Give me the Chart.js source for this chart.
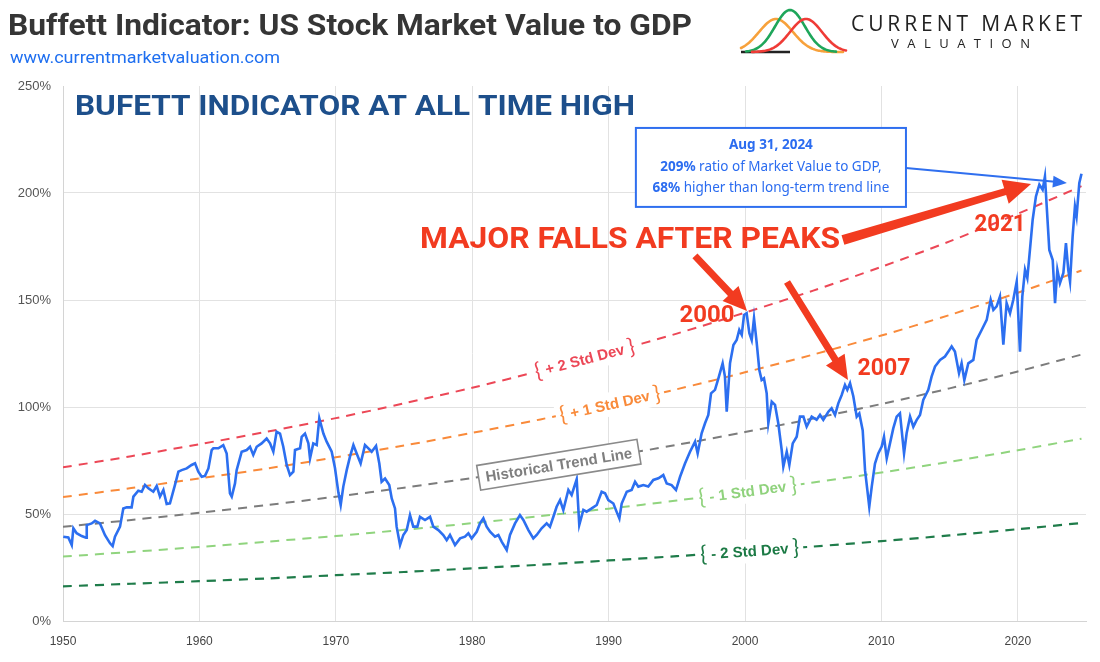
<!DOCTYPE html>
<html>
<head>
<meta charset="utf-8">
<script src="https://cdn.jsdelivr.net/npm/chart.js@4.4.1/dist/chart.umd.min.js"></script>
<style>
html,body{margin:0;padding:0;background:#fff;}
#wrap{width:1100px;height:662px;position:relative;}
</style>
</head>
<body>
<div id="wrap"><canvas id="c" width="1100" height="662"></canvas></div>
<script>
// ---- Buffett indicator (market value / GDP, %) ----
const years = [
  1950.02,1950.39,1950.64,1950.76,1951.00,1951.37,1951.69,1951.74,1952.10,1952.35,1952.71,1953.08,1953.45,1953.64,1953.81,1954.18,1954.42,1954.67,1955.03,1955.16,1955.52,1955.77,1956.01,1956.26,1956.62,1956.87,1957.11,1957.36,1957.60,1957.84,1958.21,1958.46,1958.70,1959.07,1959.43,1959.68,1959.92,
  1960.17,1960.41,1960.66,1960.90,1961.02,1961.39,1961.75,1962.00,1962.24,1962.37,1962.61,1962.73,1963.10,1963.47,1963.71,1963.95,1964.20,1964.56,1964.93,1965.18,1965.42,1965.66,1965.91,1966.15,1966.40,1966.64,1966.89,1967.01,1967.38,1967.50,1967.74,1967.99,1968.11,1968.35,1968.60,1968.79,1969.09,1969.33,1969.70,1969.94,
  1970.19,1970.36,1970.55,1970.80,1971.04,1971.29,1971.53,1971.82,1972.14,1972.39,1972.63,1972.95,1973.19,1973.36,1973.61,1973.92,1974.10,1974.34,1974.46,1974.71,1974.95,1975.20,1975.44,1975.68,1975.98,1976.17,1976.54,1976.91,1977.15,1977.52,1977.88,1978.13,1978.37,1978.74,1979.11,1979.47,1979.72,1979.96,
  1980.33,1980.57,1980.82,1981.06,1981.31,1981.67,1981.92,1982.16,1982.53,1982.77,1983.14,1983.50,1983.75,1984.12,1984.48,1984.73,1985.09,1985.46,1985.70,1985.95,1986.19,1986.44,1986.68,1987.05,1987.29,1987.66,1987.85,1988.15,1988.39,1988.76,1989.13,1989.49,1989.74,1989.98,
  1990.35,1990.59,1990.79,1990.96,1991.33,1991.69,1991.94,1992.18,1992.55,1992.91,1993.28,1993.65,1994.01,1994.26,1994.62,1994.94,1995.24,1995.60,1995.97,1996.34,1996.53,1996.82,1997.07,1997.31,1997.51,1997.80,1998.05,1998.36,1998.53,1998.66,1998.90,1999.15,1999.39,1999.58,1999.76,1999.93,
  2000.12,2000.32,2000.49,2000.66,2000.86,2001.05,2001.22,2001.39,2001.59,2001.71,2001.96,2002.20,2002.44,2002.69,2002.81,2003.06,2003.25,2003.50,2003.79,2004.03,2004.28,2004.52,2004.89,2005.25,2005.50,2005.74,2006.11,2006.35,2006.60,2006.84,2007.09,2007.33,2007.50,2007.70,2007.94,2008.19,2008.38,2008.63,2008.80,2008.97,2009.11,2009.29,2009.53,2009.77,
  2010.02,2010.19,2010.39,2010.63,2010.87,2011.12,2011.36,2011.66,2011.85,2012.10,2012.34,2012.58,2012.83,2013.07,2013.44,2013.68,2013.93,2014.30,2014.66,2014.91,2015.15,2015.39,2015.69,2015.88,2016.08,2016.37,2016.74,2016.98,2017.35,2017.72,2018.01,2018.21,2018.45,2018.69,2018.94,2019.18,2019.43,2019.67,2019.92,
  2020.16,2020.33,2020.53,2020.70,2020.89,2021.09,2021.33,2021.58,2021.82,2021.99,2022.12,2022.31,2022.56,2022.73,2022.90,2023.09,2023.34,2023.53,2023.70,2023.83,2024.02,2024.19,2024.31,2024.51,2024.67
];
const ratio = [
  39.4,39.0,35.5,43.3,41.0,39.7,38.9,44.8,45.6,46.8,45.6,40.1,36.3,35.0,39.4,44.1,52.6,53.1,53.1,58.1,60.9,60.4,63.6,62.0,60.4,63.1,58.1,61.2,54.7,55.0,63.6,69.8,70.5,71.3,72.9,73.7,69.8,
  67.4,67.8,71.3,79.9,80.7,80.7,82.2,78.3,59.6,58.1,64.3,70.5,79.1,79.9,81.4,77.6,81.4,83.0,85.3,83.0,79.1,88.4,87.6,81.4,72.9,68.2,69.8,79.9,80.7,86.1,87.6,83.0,76.0,83.0,82.2,94.7,87.6,83.8,79.1,71.5,
  60.0,54.2,62.8,70.5,76.8,82.2,78.3,73.6,82.2,80.7,79.1,81.8,73.6,65.1,66.6,63.5,57.3,52.6,44.1,35.5,40.2,42.5,49.5,44.1,44.1,48.7,47.2,48.7,44.1,42.5,40.2,37.8,40.2,35.5,38.6,39.4,41.0,38.6,
  41.7,45.6,48.0,44.1,41.7,39.4,40.2,37.1,33.2,40.2,45.6,49.5,47.2,42.5,38.6,40.2,43.3,45.6,44.0,48.7,53.4,56.5,51.8,61.2,58.9,66.2,44.9,51.9,51.1,52.6,54.2,60.4,59.7,56.5,
  54.9,51.0,47.9,54.9,60.4,61.2,65.1,62.8,63.5,62.8,65.9,66.7,68.2,64.3,63.5,61.2,67.4,73.6,79.1,83.8,78.3,87.7,92.4,96.3,106.4,108.0,113.4,120.4,114.2,97.8,120.4,129.0,131.3,136.0,133.7,143.0,
  143.8,134.5,131.3,141.5,129.8,117.3,112.6,113.4,106.4,92.4,102.5,101.0,92.4,79.9,72.1,79.1,72.9,83.0,86.1,95.5,95.5,90.8,95.5,94.0,96.3,94.0,97.8,99.4,96.3,101.7,105.6,110.3,108.0,111.1,105.0,95.5,97.0,89.0,70.5,61.2,53.4,62.7,73.6,78.3,
  81.5,86.1,76.0,83.0,90.0,95.5,97.0,78.3,87.7,95.5,90.8,93.9,96.3,103.3,108.0,114.2,118.9,122.0,123.6,125.9,128.3,125.9,115.8,120.4,112.6,120.4,122.0,131.3,136.0,140.7,150.1,145.4,147.0,151.6,129.1,148.5,143.8,150.1,158.6,
  125.9,151.6,164.1,160.2,173.4,187.5,198.4,203.9,201.5,207.7,193.7,173.4,168.7,148.5,164.1,157.9,162.6,176.6,164.1,158.6,179.7,193.7,189.1,204.7,209.0
];

// ---- trend line and standard-deviation bands (%), read at 5-year marks ----
const bandYears = [1950,1955,1960,1965,1970,1975,1980,1985,1990,1995,2000,2005,2010,2015,2020,2024.67];
const plus2Sd  = [71.8,77.0,82.6,88.5,94.8,101.7,109.0,116.9,125.3,134.3,144.1,154.4,165.5,177.4,190.3,203.2];
const plus1Sd  = [57.9,62.1,66.6,71.3,76.5,82.0,87.9,94.2,101.1,108.3,116.2,124.5,133.4,143.0,153.4,163.8];
const trendLine= [44.0,47.2,50.6,54.2,58.1,62.3,66.8,71.6,76.8,82.3,88.3,94.6,101.4,108.7,116.6,124.5];
const minus1Sd = [30.1,32.3,34.6,37.1,39.7,42.6,45.7,49.0,52.5,56.3,60.4,64.7,69.4,74.4,79.8,85.2];
const minus2Sd = [16.2,17.4,18.6,19.9,21.4,22.9,24.6,26.3,28.3,30.3,32.5,34.8,37.3,40.0,42.9,45.8];

// ---- axis ticks ----
const xTicks = [1950,1960,1970,1980,1990,2000,2010,2020];
const xTickLabels = ['1950','1960','1970','1980','1990','2000','2010','2020'];
const yTicks = [0,50,100,150,200,250];
const yTickLabels = ['0%','50%','100%','150%','200%','250%'];

const pts = (xs, ys) => xs.map((x, i) => ({x: x, y: ys[i]}));

// ---------- drawing helpers ----------
function fitText(ctx, txt, x, y, font, w, color, align) {
  ctx.save();
  ctx.font = font; ctx.fillStyle = color; ctx.textBaseline = 'middle'; ctx.textAlign = 'left';
  const m = ctx.measureText(txt).width;
  const s = w / m;
  const x0 = align === 'center' ? x - w / 2 : x;
  ctx.translate(x0, y); ctx.scale(s, 1);
  ctx.fillText(txt, 0, 0);
  ctx.restore();
}
function spacedText(ctx, txt, x1, x2, y, font, color) {
  ctx.save();
  ctx.font = font; ctx.fillStyle = color; ctx.textBaseline = 'middle'; ctx.textAlign = 'left';
  const chars = txt.split('');
  const ws = chars.map(c => ctx.measureText(c).width);
  const sum = ws.reduce((a, b) => a + b, 0);
  const gap = (x2 - x1 - sum) / (chars.length - 1);
  let x = x1;
  chars.forEach((c, i) => { ctx.fillText(c, x, y); x += ws[i] + gap; });
  ctx.restore();
}
function richLine(ctx, parts, cx, y, color) {
  ctx.save();
  ctx.fillStyle = color; ctx.textBaseline = 'middle'; ctx.textAlign = 'left';
  let total = 0;
  const ws = parts.map(p => { ctx.font = p[1]; const w = ctx.measureText(p[0]).width; total += w; return w; });
  let x = cx - total / 2;
  parts.forEach((p, i) => { ctx.font = p[1]; ctx.fillText(p[0], x, y); x += ws[i]; });
  ctx.restore();
}
function fatArrow(ctx, x1, y1, x2, y2, w1, w2, hw, hl, color) {
  const dx = x2 - x1, dy = y2 - y1, L = Math.hypot(dx, dy);
  const ux = dx / L, uy = dy / L, nx = -uy, ny = ux;
  const bx = x2 - ux * hl, by = y2 - uy * hl;
  ctx.save();
  ctx.beginPath();
  ctx.moveTo(x1 + nx * w1 / 2, y1 + ny * w1 / 2);
  ctx.lineTo(bx + nx * w2 / 2, by + ny * w2 / 2);
  ctx.lineTo(bx + nx * hw / 2, by + ny * hw / 2);
  ctx.lineTo(x2, y2);
  ctx.lineTo(bx - nx * hw / 2, by - ny * hw / 2);
  ctx.lineTo(bx - nx * w2 / 2, by - ny * w2 / 2);
  ctx.lineTo(x1 - nx * w1 / 2, y1 - ny * w1 / 2);
  ctx.closePath();
  ctx.fillStyle = color; ctx.fill();
  ctx.restore();
}
function bell(ctx, x0, x1, px, py, base, sigma, color) {
  ctx.save();
  ctx.beginPath();
  for (let x = x0; x <= x1; x += 1) {
    const y = base - (base - py) * Math.exp(-0.5 * Math.pow((x - px) / sigma, 2));
    if (x === x0) ctx.moveTo(x, y); else ctx.lineTo(x, y);
  }
  ctx.strokeStyle = color; ctx.lineWidth = 2.6; ctx.lineCap = 'round'; ctx.stroke();
  ctx.restore();
}

const COL = {
  blue: '#2c6ff0', plus2: '#ec4756', plus1: '#f98a3a', trend: '#7c7c7c',
  minus1: '#90d47e', minus2: '#1f7c4a', red: '#f23b20', navy: '#1d4f8b'
};

const lineLabels = [
  {ds: 1, year: 1988.25, text: ' + 2 Std Dev ', color: COL.plus2},
  {ds: 2, year: 1990.10, text: ' + 1 Std Dev ', color: COL.plus1},
  {ds: 3, year: 1986.35, text: 'Historical Trend Line', color: '#7f7f7f', boxed: true},
  {ds: 4, year: 2000.20, text: ' - 1 Std Dev ', color: '#8fd27c'},
  {ds: 5, year: 2000.35, text: ' - 2 Std Dev ', color: '#1c7a45'}
];

const overlay = {
  id: 'overlay',
  beforeDraw(chart) {
    const ctx = chart.ctx;
    ctx.save(); ctx.fillStyle = '#fff'; ctx.fillRect(0, 0, chart.width, chart.height); ctx.restore();
  },
  afterDatasetsDraw(chart) {
    const ctx = chart.ctx;
    const xs = chart.scales.x;
    lineLabels.forEach(l => {
      const p = chart.getDatasetMeta(l.ds).data;
      const px = xs.getPixelForValue(l.year);
      let i = 0;
      while (i < p.length - 2 && p[i + 1].x < px) i++;
      const a = p[i], b = p[i + 1];
      const t = (px - a.x) / (b.x - a.x);
      const py = a.y + (b.y - a.y) * t;
      const ang = Math.atan2(b.y - a.y, b.x - a.x);
      ctx.save();
      ctx.translate(px, py); ctx.rotate(ang);
      ctx.textBaseline = 'middle'; ctx.textAlign = 'left';
      if (l.boxed) {
        ctx.font = 'bold 15px "Liberation Sans", Arial, sans-serif';
        const w = ctx.measureText(l.text).width;
        const bw = w + 14, bh = 25;
        ctx.fillStyle = '#fff'; ctx.fillRect(-bw / 2, -bh / 2, bw, bh);
        ctx.strokeStyle = '#8a8a8a'; ctx.lineWidth = 1.6; ctx.strokeRect(-bw / 2, -bh / 2, bw, bh);
        ctx.fillStyle = l.color; ctx.fillText(l.text, -w / 2, 1);
      } else {
        const bf = '22px Lato, "Liberation Sans", sans-serif';
        const tf = 'bold 15px "Liberation Sans", Arial, sans-serif';
        ctx.font = bf; const wb = ctx.measureText('{').width;
        ctx.font = tf; const wt = ctx.measureText(l.text).width;
        const total = wb * 2 + wt;
        ctx.fillStyle = '#fff'; ctx.fillRect(-total / 2 - 4, -12, total + 8, 24);
        ctx.fillStyle = l.color;
        let x = -total / 2;
        ctx.font = bf; ctx.fillText('{', x, 0); x += wb;
        ctx.font = tf; ctx.fillText(l.text, x, 1); x += wt;
        ctx.font = bf; ctx.fillText('}', x, 0);
      }
      ctx.restore();
    });
  },
  afterDraw(chart) {
    const ctx = chart.ctx;
    const X = v => chart.scales.x.getPixelForValue(v);
    const Y = v => chart.scales.y.getPixelForValue(v);

    // header
    fitText(ctx, 'Buffett Indicator: US Stock Market Value to GDP', 8, 27, 'bold 30px Roboto, sans-serif', 684, '#353535');
    fitText(ctx, 'www.currentmarketvaluation.com', 10, 59, '16px Roboto, sans-serif', 270, '#1f6ff0');

    // logo
    ctx.save();
    ctx.beginPath(); ctx.moveTo(741, 52); ctx.lineTo(790, 52);
    ctx.strokeStyle = '#222'; ctx.lineWidth = 2.4; ctx.stroke();
    ctx.restore();
    bell(ctx, 741, 843, 776, 19, 52, 17, '#f7a13b');
    bell(ctx, 746, 836, 790, 10, 52, 15, '#1ea65a');
    bell(ctx, 752, 846, 806, 19, 52, 16, '#ef3b36');
    spacedText(ctx, 'CURRENT MARKET', 851, 1082, 25, '21px "Open Sans", sans-serif', '#222');
    spacedText(ctx, 'VALUATION', 891, 1030, 44, '13px "Open Sans", sans-serif', '#222');

    // headline inside plot
    fitText(ctx, 'BUFETT INDICATOR AT ALL TIME HIGH', X(1950.88), Y(239.7), 'bold 28px Roboto, sans-serif', 560, COL.navy);

    // callout box
    const bx1 = X(1992.0), bx2 = X(2011.8), by1 = Y(230.4), by2 = Y(193.5);
    ctx.save();
    ctx.fillStyle = '#fff'; ctx.fillRect(bx1, by1, bx2 - bx1, by2 - by1);
    ctx.strokeStyle = '#2f6fef'; ctx.lineWidth = 2; ctx.strokeRect(bx1, by1, bx2 - bx1, by2 - by1);
    ctx.restore();
    const cx = (bx1 + bx2) / 2;
    const bfont = 'bold 13.5px "Noto Sans", sans-serif', rfont = '13.5px "Noto Sans", sans-serif';
    richLine(ctx, [['Aug 31, 2024', bfont]], cx, Y(222.4), '#2b6cf0');
    richLine(ctx, [['209%', bfont], [' ratio of Market Value to GDP,', rfont]], cx, Y(212.1), '#2b6cf0');
    richLine(ctx, [['68%', bfont], [' higher than long-term trend line', rfont]], cx, Y(202.3), '#2b6cf0');

    // blue pointer arrow
    {
      const x1 = bx2, y1 = Y(211.7), x2 = X(2023.6), y2 = Y(204.7);
      const dx = x2 - x1, dy = y2 - y1, L = Math.hypot(dx, dy), ux = dx / L, uy = dy / L;
      ctx.save();
      ctx.beginPath(); ctx.moveTo(x1, y1); ctx.lineTo(x2 - ux * 12, y2 - uy * 12);
      ctx.strokeStyle = '#2f6fef'; ctx.lineWidth = 2; ctx.stroke();
      ctx.restore();
      fatArrow(ctx, x1, y1, x2, y2, 0, 0, 12, 14, '#2f6fef');
    }

    // red callouts
    fitText(ctx, 'MAJOR FALLS AFTER PEAKS', X(1991.57), Y(178.0), 'bold 30px Roboto, "Liberation Sans", sans-serif', 420, COL.red, 'center');
    fatArrow(ctx, X(2007.18), Y(178.0), X(2020.97), Y(204.2), 10, 7, 25, 27, COL.red);
    fatArrow(ctx, X(1996.33), Y(170.6), X(2000.15), Y(144.9), 7, 7, 22, 24, COL.red);
    fatArrow(ctx, X(2003.08), Y(158.4), X(2007.55), Y(112.6), 7, 7, 22, 24, COL.red);
    fitText(ctx, '2000', X(1997.21), Y(142.5), 'bold 23px Roboto, sans-serif', 55, COL.red, 'center');
    fitText(ctx, '2007', X(2010.19), Y(117.8), 'bold 23px Roboto, sans-serif', 53, COL.red, 'center');
    fitText(ctx, '2021', X(2018.70), Y(185.0), 'bold 23px Roboto, sans-serif', 51, COL.red, 'center');
  }
};

const dash = [9, 7];
const chart = new Chart(document.getElementById('c'), {
  type: 'line',
  data: {
    datasets: [
      {label: 'Buffett Indicator', data: pts(years, ratio), borderColor: COL.blue, borderWidth: 2.6, pointRadius: 0, tension: 0},
      {label: '+2 Std Dev', data: pts(bandYears, plus2Sd), borderColor: COL.plus2, borderWidth: 2, borderDash: dash, pointRadius: 0, tension: 0.3},
      {label: '+1 Std Dev', data: pts(bandYears, plus1Sd), borderColor: COL.plus1, borderWidth: 2, borderDash: dash, pointRadius: 0, tension: 0.3},
      {label: 'Historical Trend Line', data: pts(bandYears, trendLine), borderColor: COL.trend, borderWidth: 2, borderDash: dash, pointRadius: 0, tension: 0.3},
      {label: '-1 Std Dev', data: pts(bandYears, minus1Sd), borderColor: COL.minus1, borderWidth: 2, borderDash: dash, pointRadius: 0, tension: 0.3},
      {label: '-2 Std Dev', data: pts(bandYears, minus2Sd), borderColor: COL.minus2, borderWidth: 2.2, borderDash: dash, pointRadius: 0, tension: 0.3}
    ]
  },
  options: {
    responsive: false,
    animation: false,
    devicePixelRatio: 1,
    layout: {padding: {top: 86, right: 14, left: 0, bottom: 0}},
    plugins: {legend: {display: false}, tooltip: {enabled: false}},
    scales: {
      x: {
        type: 'linear', min: 1950, max: 2025,
        afterBuildTicks: s => { s.ticks = xTicks.map(v => ({value: v})); },
        afterFit: s => { s.height = 41; },
        ticks: {callback: (v, i) => xTickLabels[i], color: '#444', font: {family: '"Liberation Sans", Arial, sans-serif', size: 12}, padding: 13, maxRotation: 0},
        grid: {color: '#e2e2e2', lineWidth: 1, drawTicks: false},
        border: {color: '#d4d4d4'}
      },
      y: {
        min: 0, max: 250,
        afterBuildTicks: s => { s.ticks = yTicks.map(v => ({value: v})); },
        afterFit: s => { s.width = 63; },
        ticks: {callback: (v, i) => yTickLabels[i], color: '#555', font: {family: '"Liberation Sans", Arial, sans-serif', size: 13}, padding: 12},
        grid: {color: c => (c.tick && c.tick.value === 250) ? 'rgba(0,0,0,0)' : '#e2e2e2', lineWidth: 1, drawTicks: false},
        border: {color: '#d4d4d4'}
      }
    }
  },
  plugins: [overlay]
});
</script>
</body>
</html>
